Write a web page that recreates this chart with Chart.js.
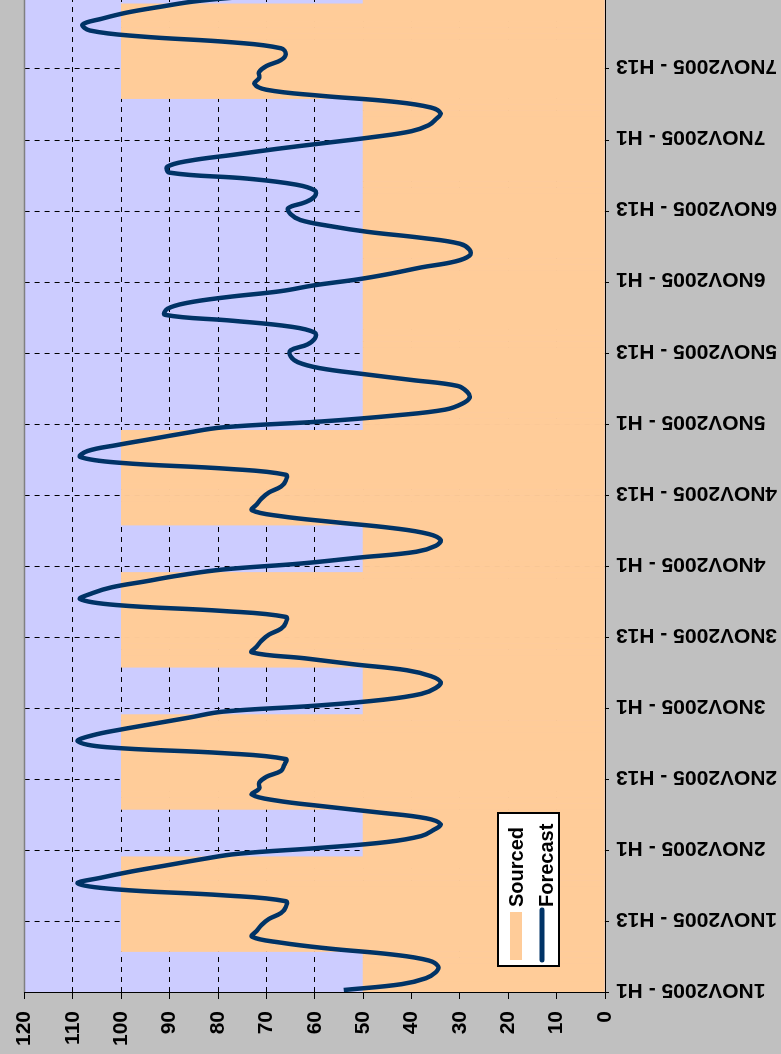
<!DOCTYPE html>
<html>
<head>
<meta charset="utf-8">
<script src="https://cdn.jsdelivr.net/npm/chart.js@4"></script>
<style>
  html, body { margin: 0; padding: 0; background: #c0c0c0; }
  #quadro { position: relative; width: 781px; height: 1054px; overflow: hidden; background: #c0c0c0; }
  /* o gráfico está "deitado": desenha normal e gira o canvas 90° anti-horário */
  #grafico { position: absolute; left: 0; top: 0; transform-origin: 0 0; transform: translate(0, 1054px) rotate(-90deg); }
</style>
</head>
<body>
<div id="quadro"><canvas id="grafico" width="1062" height="781"></canvas></div>
<script>
// Dias e horas (categorias)
const dias = ['1NOV2005', '2NOV2005', '3NOV2005', '4NOV2005', '5NOV2005', '6NOV2005', '7NOV2005'];
const horas = ['H1', 'H2', 'H3', 'H4', 'H5', 'H6', 'H7', 'H8', 'H9', 'H10', 'H11', 'H12',
               'H13', 'H14', 'H15', 'H16', 'H17', 'H18', 'H19', 'H20', 'H21', 'H22', 'H23', 'H24'];
const categoriasExtra = ['8NOV2005 - H1']; // cortada no topo da imagem

// Forecast por dia
const forecast1Nov = [54, 42, 37, 35, 34.5, 36.5, 44, 57, 67, 73, 72, 71, 69.5, 67, 66, 66, 79, 101, 109, 104, 98, 91, 84, 76];
const forecast2Nov = [59, 45, 38, 35.5, 34, 37, 47, 58, 68, 73, 71.5, 71.5, 70, 67, 66.3, 66, 79, 103, 109, 106, 100, 93, 86, 79];
const forecast3Nov = [60, 46, 38, 35, 34, 36, 41, 52, 62, 73, 72, 71, 69.5, 67, 66, 66, 79, 101, 108.5, 106, 102, 95, 88, 79];
const forecast4Nov = [63, 51, 39, 35, 34, 36.5, 44, 56, 67, 73, 72, 71, 69.5, 67, 66, 66, 78, 100, 108.5, 107, 101, 94, 87, 79];
const forecast5Nov = [58.5, 43.5, 33, 29.5, 28, 28.5, 30.5, 40, 50, 59, 63.5, 65, 65, 61.5, 60, 60, 65, 77, 91, 90.5, 86.5, 78, 67, 60];
const forecast6Nov = [51, 44, 38, 31, 28, 28, 30, 38, 49, 57, 63, 65, 65.5, 62, 60, 60, 64, 74, 90, 90.5, 86, 77, 68, 58];
const forecast7Nov = [48, 40, 36.5, 35, 34, 36, 44, 59, 70, 72.5, 71.5, 71.5, 70, 67, 66, 67, 77, 96, 106.5, 108, 104, 99, 92, 84];
const forecast8Nov = [70];

// Sourced: dia útil e fim de semana
const sourcedDiaUtil = [50, 50, 50, 50, 50, 50, 50, 100, 100, 100, 100, 100,
                        100, 100, 100, 100, 100, 100, 100, 100, 100, 100, 100, 50];
const sourcedFimSemana = [50, 50, 50, 50, 50, 50, 50, 50, 50, 50, 50, 50,
                          50, 50, 50, 50, 50, 50, 50, 50, 50, 50, 50, 50];
const sourced8Nov = [50];

const categorias = dias.flatMap(d => horas.map(h => d + ' - ' + h)).concat(categoriasExtra);
const forecast = [].concat(forecast1Nov, forecast2Nov, forecast3Nov, forecast4Nov,
                           forecast5Nov, forecast6Nov, forecast7Nov, forecast8Nov);
const sourced = [].concat(sourcedDiaUtil, sourcedDiaUtil, sourcedDiaUtil, sourcedDiaUtil,
                          sourcedFimSemana, sourcedFimSemana, sourcedDiaUtil, sourced8Nov);

const fonte = { family: "'Liberation Sans', Arial, sans-serif", size: 21, weight: 'bold' };

// Fundo lilás da área de plotagem e borda cinza
const fundoPlot = {
    id: 'fundoPlot',
    beforeDraw(chart) {
        const { ctx, chartArea: a } = chart;
        ctx.save();
        ctx.fillStyle = '#CCCCFF';
        ctx.fillRect(a.left, a.top, a.right - a.left, a.bottom - a.top);
        ctx.restore();
    },
    afterDatasetsDraw(chart) {
        const { ctx, chartArea: a } = chart;
        ctx.save();
        ctx.strokeStyle = '#808080';
        ctx.lineWidth = 1.5;
        ctx.beginPath();
        ctx.moveTo(a.left, a.top);
        ctx.lineTo(a.right, a.top);
        ctx.stroke();
        ctx.restore();
    }
};

// Legenda dentro da área do gráfico
const legenda = {
    id: 'legenda',
    afterDraw(chart) {
        const { ctx, chartArea: a } = chart;
        const linha = chart.data.datasets[0];
        const barra = chart.data.datasets[1];
        const x = a.left + 27, y = a.bottom - 107, w = 153, h = 61;
        ctx.save();
        ctx.fillStyle = '#FFFFFF';
        ctx.fillRect(x, y, w, h);
        ctx.strokeStyle = '#000000';
        ctx.lineWidth = 2;
        ctx.strokeRect(x, y, w, h);

        ctx.fillStyle = barra.backgroundColor;
        ctx.fillRect(x + 6, y + 12, 48, 12);

        ctx.strokeStyle = linha.borderColor;
        ctx.lineWidth = 5;
        ctx.lineCap = 'round';
        ctx.beginPath();
        ctx.moveTo(x + 6, y + 44);
        ctx.lineTo(x + 56, y + 44);
        ctx.stroke();

        ctx.fillStyle = '#000000';
        ctx.font = 'bold 20px "Liberation Sans", Arial, sans-serif';
        ctx.textBaseline = 'alphabetic';
        ctx.fillText(barra.label, x + 59, y + 25);
        ctx.fillText(linha.label, x + 59, y + 55);
        ctx.restore();
    }
};

new Chart(document.getElementById('grafico').getContext('2d'), {
    type: 'bar',
    data: {
        labels: categorias,
        datasets: [{
            type: 'line',
            label: 'Forecast',
            data: forecast,
            borderColor: '#003366',
            borderWidth: 4.5,
            pointRadius: 0,
            tension: 0.4,
            fill: false,
            order: 0
        }, {
            type: 'bar',
            label: 'Sourced',
            data: sourced,
            backgroundColor: '#FFCC99',
            borderWidth: 0,
            barPercentage: 1,
            categoryPercentage: 1,
            order: 1
        }]
    },
    options: {
        responsive: false,
        animation: false,
        layout: { padding: { top: 22, right: 0, bottom: 0, left: 0 } },
        plugins: {
            legend: { display: false },
            tooltip: { enabled: false }
        },
        scales: {
            x: {
                type: 'category',
                offset: true,
                grid: {
                    offset: true,
                    color: c => c.index % 12 === 0 ? '#000000' : 'rgba(0,0,0,0)',
                    tickLength: 4,
                    lineWidth: 1
                },
                border: { color: '#000000', width: 1, dash: [5, 5], z: 1 },
                ticks: {
                    autoSkip: false,
                    minRotation: 90,
                    maxRotation: 90,
                    padding: 7,
                    color: '#000000',
                    font: fonte,
                    // um rótulo a cada 12 horas; como no Excel, some o que não cabe no fim
                    callback: function (v, i) {
                        return (i % 12 === 0 && i + 12 <= categorias.length) ? this.getLabelForValue(v) : '';
                    }
                },
                afterFit: s => { s.height = 176; s.paddingLeft = 0; s.paddingRight = 0; }
            },
            y: {
                min: 0,
                max: 120,
                ticks: { stepSize: 10, padding: 12, color: '#000000', font: fonte },
                grid: {
                    color: c => (c.tick && c.tick.value === 120) ? 'rgba(0,0,0,0)' : '#000000',
                    tickColor: '#000000',
                    tickLength: 6,
                    lineWidth: 1
                },
                border: { color: '#000000', width: 1, dash: [5, 5], z: 1 },
                afterFit: s => { s.width = 61; }
            }
        }
    },
    plugins: [fundoPlot, legenda]
});
</script>
</body>
</html>
